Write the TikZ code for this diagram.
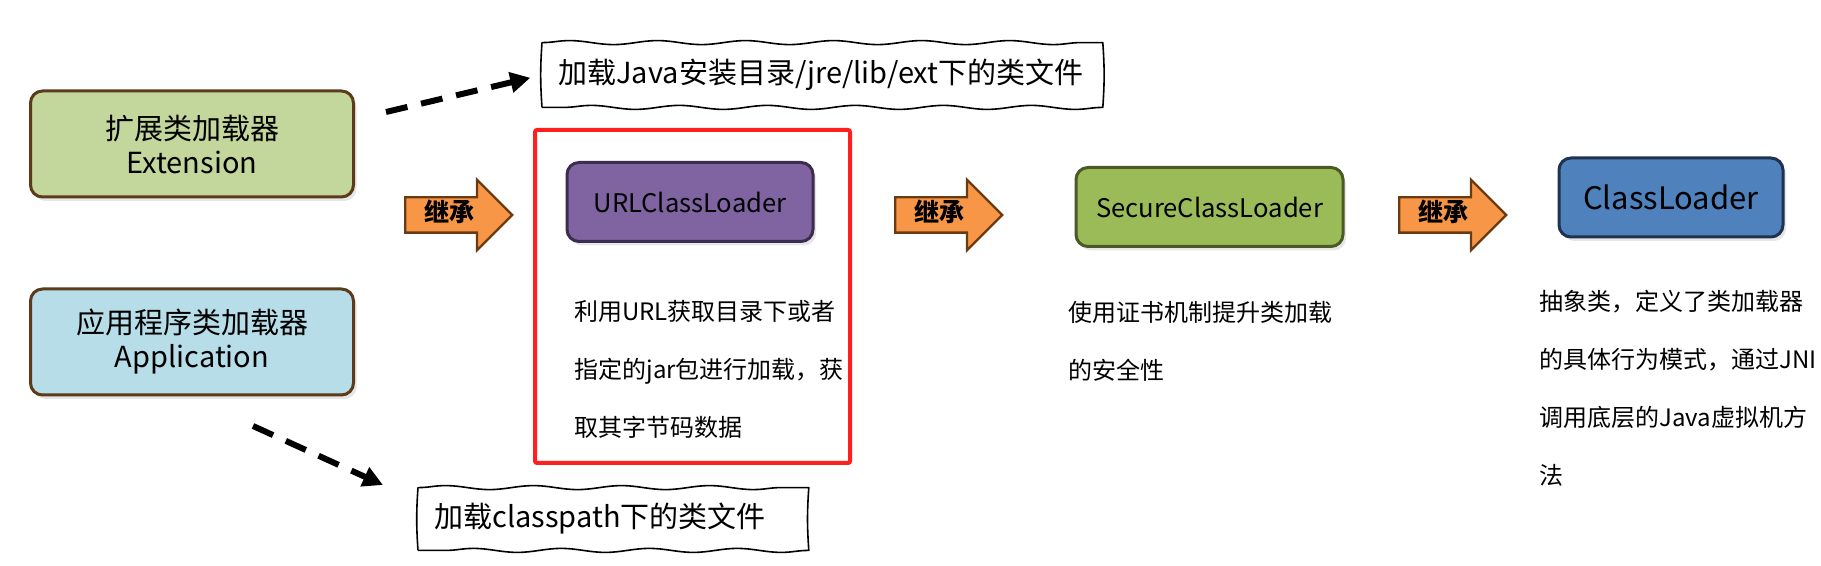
\documentclass[tikz,border=0pt]{standalone}
\usepackage{fontspec}
\setmainfont{Noto Sans CJK SC}
\usetikzlibrary{
  arrows.meta,              % Triangle 箭头样式
  calc,                     % 坐标计算
  shapes.arrows,            % “继承”箭头形状
  shadows,                  % 方框阴影
  decorations.pathmorphing  % 手绘波浪边框
}

% 颜色
\definecolor{extfill}{HTML}{C3D69B}
\definecolor{appfill}{HTML}{B7DEE8}
\definecolor{boxbrown}{HTML}{5C3A1A}
\definecolor{urlfill}{HTML}{8064A2}
\definecolor{urldraw}{HTML}{3B2D4F}
\definecolor{secfill}{HTML}{9BBB59}
\definecolor{secdraw}{HTML}{4A5A26}
\definecolor{clfill}{HTML}{4F81BD}
\definecolor{cldraw}{HTML}{1F3350}
\definecolor{inhfill}{HTML}{F79646}
\definecolor{inhdraw}{HTML}{6B3A10}
\definecolor{selred}{HTML}{FF1F1F}

\tikzset{
  loader/.style={rounded corners=6pt, line width=1.5pt, align=center, inner sep=0pt,
    drop shadow={shadow xshift=1.5pt, shadow yshift=-2pt, opacity=0.2}},
  bigloader/.style={loader, draw=boxbrown, minimum width=161.5pt, minimum height=53pt,
    font=\fontsize{14.5}{17}\selectfont},
  classbox/.style={loader, minimum height=39.5pt, font=\fontsize{12.8}{15}\selectfont},
  inherit/.style={single arrow, draw=inhdraw, fill=inhfill, line width=1.2pt,
    anchor=tail, minimum height=53.5pt, single arrow head extend=8.75pt,
    inner xsep=3pt, inner ysep=2.25pt, text height=9.5pt, text depth=2.5pt,
    font=\fontsize{12.5}{14}\selectfont\bfseries},
  notebox/.style={fill=white, anchor=west, inner xsep=8pt, align=left,
    font=\fontsize{14.5}{17}\selectfont},
  notepen/.style={line width=0.8pt, line join=round,
    decoration={snake, segment length=44pt, amplitude=1pt}},
  desc/.style={anchor=north west, inner sep=0pt, align=left,
    font=\fontsize{12}{29}\selectfont},
  dasharrow/.style={line width=3pt, dash pattern=on 11pt off 7pt,
    -{Triangle[length=10pt, width=10pt]}}
}

\begin{document}
\begin{tikzpicture}[x=0.5pt, y=-0.5pt]
  \useasboundingbox (0,0) rectangle (1821,566);

  % =========== 左侧：两个类加载器 ===========
  \node[bigloader, fill=extfill] (ext) at (192,144) {扩展类加载器\\Extension};
  \node[bigloader, fill=appfill] (app) at (192,342) {应用程序类加载器\\Application};

  % 1. 加载路径说明 (手绘框：上下边波浪，左右边微弯)
  \node[notebox, minimum height=32pt, text width=264pt] (note1) at (542,75)
    {加载Java安装目录/jre/lib/ext下的类文件};
  \draw[notepen] (note1.south west) to[bend left=4] (note1.north west)
    decorate{-- (note1.north east)} to[bend left=4] (note1.south east)
    decorate{-- (note1.south west)};
  \node[notebox, minimum height=31pt, text width=179pt] (note2) at (418,519)
    {加载classpath下的类文件};
  \draw[notepen] (note2.south west) to[bend left=4] (note2.north west)
    decorate{-- (note2.north east)} to[bend right=4] (note2.south east)
    decorate{-- (note2.south west)};

  % 2. 虚线箭头
  \coordinate (d1s) at (386,112);
  \draw[dasharrow, shorten >=6pt] (d1s) -- (note1.west);
  \coordinate (d2s) at (253,426);
  \coordinate (d2e) at (383,485);
  \draw[dasharrow] (d2s) -- (d2e);

  % =========== 继承链 ===========
  \node[classbox, fill=urlfill, draw=urldraw, minimum width=123pt] (url) at (690,202) {URLClassLoader};
  \node[classbox, fill=secfill, draw=secdraw, minimum width=133.5pt] (sec) at (1209.5,207) {SecureClassLoader};
  \node[classbox, fill=clfill, draw=cldraw, minimum width=112pt,
    font=\fontsize{15.5}{18}\selectfont] (cl) at (1671,197.5) {ClassLoader};

  % 3. 继承箭头
  \node[inherit] (inh1) at (404,215) {继承};
  \node[inherit] (inh2) at (894,215) {继承};
  \node[inherit] (inh3) at (1398,215) {继承};

  % 4. 说明文字
  \node[desc] (urldesc) at (574,300) {利用URL获取目录下或者\\指定的jar包进行加载，获\\取其字节码数据};
  \node[desc] (secdesc) at (1068,301) {使用证书机制提升类加载\\的安全性};
  \node[desc] (cldesc) at (1539,290) {抽象类，定义了类加载器\\的具体行为模式，通过JNI\\调用底层的Java虚拟机方\\法};

  % 5. 红色选框
  \draw[selred, line width=2pt, rounded corners=1pt] (535,130) rectangle (850,463);

\end{tikzpicture}
\end{document}
